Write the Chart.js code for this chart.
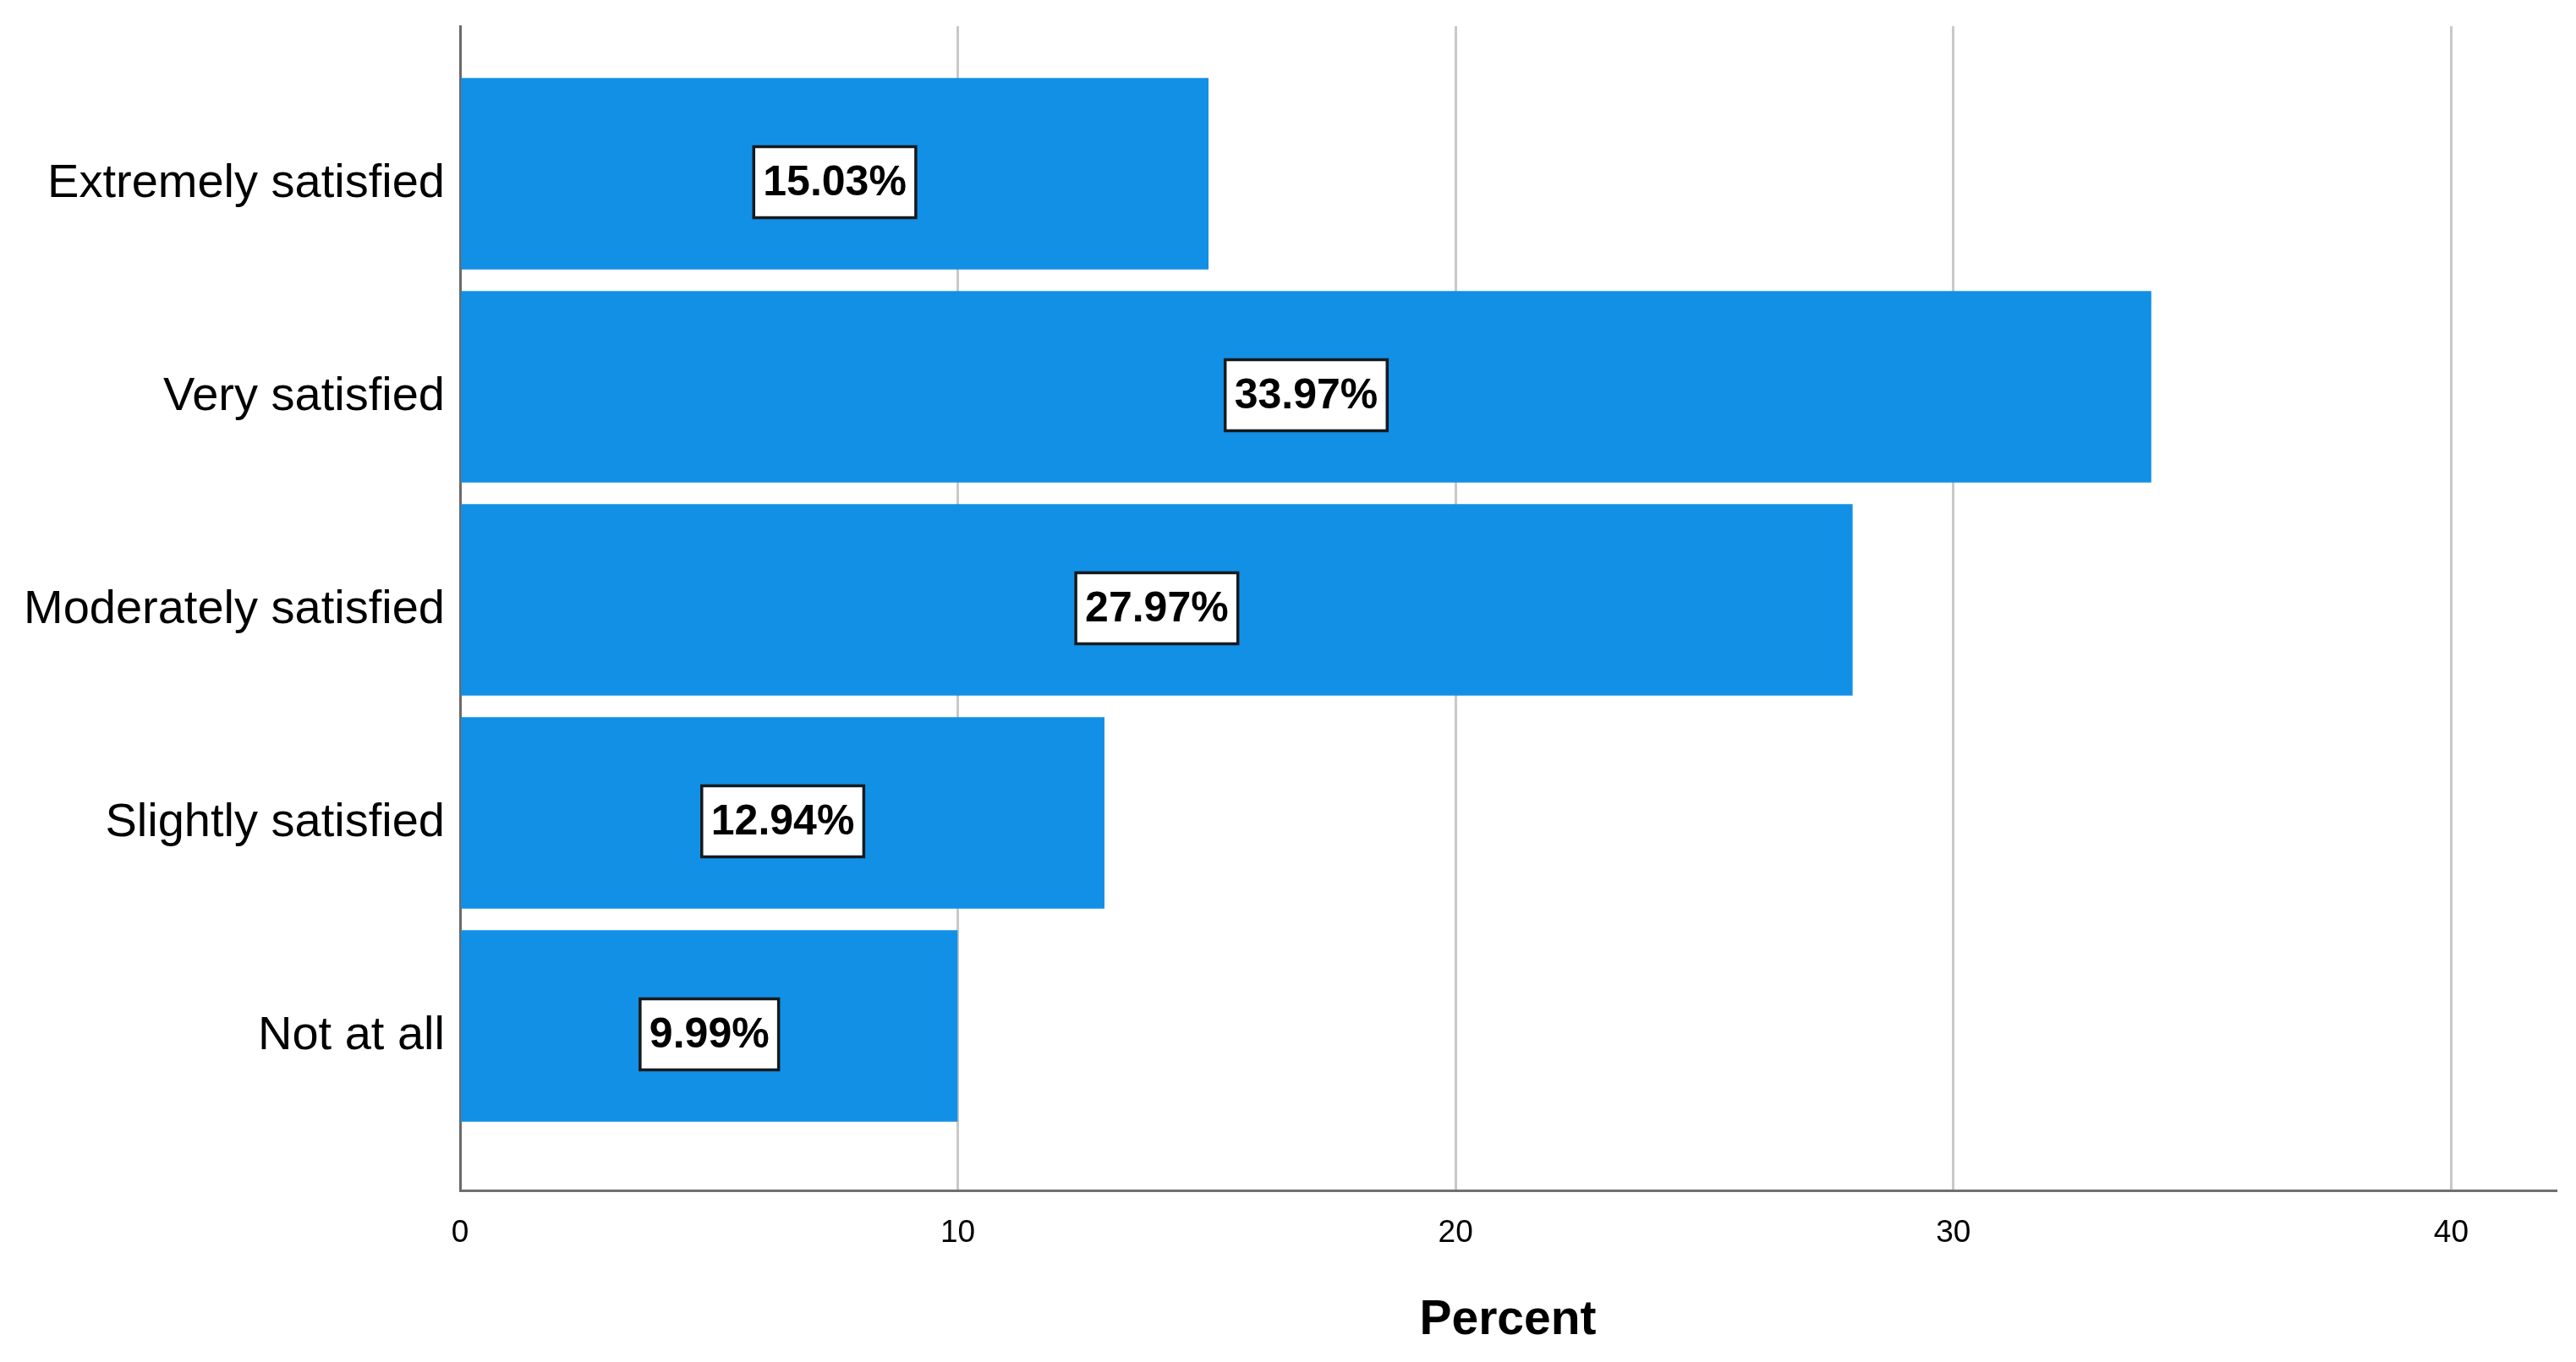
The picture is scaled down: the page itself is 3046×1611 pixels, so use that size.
<!DOCTYPE html>
<html>
<head>
<meta charset="utf-8">
<title>Percent</title>
<script src="https://cdn.jsdelivr.net/npm/chart.js@4/dist/chart.umd.min.js"></script>
<style>
  html, body { margin: 0; padding: 0; background: #ffffff; }
  #barChart { display: block; }
</style>
</head>
<body>
<canvas id="barChart" width="3046" height="1611"></canvas>
<script>
'use strict';

// satisfaction levels, top to bottom
var categories = ["Extremely satisfied", "Very satisfied", "Moderately satisfied", "Slightly satisfied", "Not at all"];
var percents = [15.03, 33.97, 27.97, 12.94, 9.99];
var xTicks = [0, 10, 20, 30, 40];

var barColor = "#1290e6";
var fontFamily = "'Liberation Sans', Arial, Helvetica, sans-serif";

// white boxed value labels in the middle of each bar
var valueBoxes = {
  id: 'valueBoxes',
  afterDatasetsDraw: function (chart) {
    var ctx = chart.ctx;
    var meta = chart.getDatasetMeta(0);
    ctx.save();
    ctx.font = "bold 50px " + fontFamily;
    ctx.textAlign = "center";
    ctx.textBaseline = "middle";
    meta.data.forEach(function (bar, i) {
      var text = percents[i].toFixed(2) + "%";
      var cx = (bar.x + bar.base) / 2;
      var cy = bar.y + 10;
      var w = ctx.measureText(text).width + 22;
      var h = 84;
      ctx.fillStyle = "#ffffff";
      ctx.fillRect(cx - w / 2, cy - h / 2, w, h);
      ctx.lineWidth = 3.5;
      ctx.strokeStyle = "#151a1f";
      ctx.strokeRect(cx - w / 2, cy - h / 2, w, h);
      ctx.fillStyle = "#000000";
      ctx.fillText(text, cx, cy + 2);
    });
    ctx.restore();
  }
};

function createBarChart() {
  var canvas = document.getElementById("barChart");
  var data = percents.map(function (p, i) {
    return { x: p, y: i };
  });

  new Chart(canvas.getContext("2d"), {
    type: "bar",
    data: {
      datasets: [{
        label: "Percent",
        data: data,
        backgroundColor: barColor,
        borderWidth: 0,
        barThickness: 226
      }]
    },
    plugins: [valueBoxes],
    options: {
      indexAxis: "y",
      responsive: false,
      animation: false,
      layout: {
        padding: { top: 31, right: 24, left: 0, bottom: 0 }
      },
      plugins: {
        legend: { display: false },
        tooltip: { enabled: false }
      },
      scales: {
        x: {
          type: "linear",
          min: 0,
          max: 42.1,
          afterBuildTicks: function (scale) {
            scale.ticks = xTicks.map(function (v) { return { value: v }; });
          },
          afterFit: function (scale) {
            scale.height = 203;
            scale.paddingLeft = 0;
            scale.paddingRight = 0;
          },
          grid: {
            drawTicks: false,
            lineWidth: 3,
            color: function (c) {
              return c.tick && c.tick.value === 0 ? "rgba(0,0,0,0)" : "#c8c8c8";
            }
          },
          border: { display: true, color: "#707070", width: 3 },
          ticks: {
            padding: 29,
            color: "#000000",
            font: { family: fontFamily, size: 37 }
          },
          title: {
            display: true,
            text: "Percent",
            color: "#000000",
            padding: { top: 0, bottom: 15 },
            font: { family: fontFamily, size: 57, weight: "bold" }
          }
        },
        y: {
          type: "linear",
          reverse: true,
          offset: false,
          min: -0.6925,
          max: 4.772,
          afterBuildTicks: function (scale) {
            scale.ticks = categories.map(function (c, i) { return { value: i }; });
          },
          afterFit: function (scale) {
            scale.width = 544;
            scale.paddingTop = 0;
            scale.paddingBottom = 0;
          },
          grid: { display: false, drawTicks: false },
          border: { display: true, color: "#6a6a6a", width: 3 },
          ticks: {
            padding: 18,
            labelOffset: 12,
            color: "#000000",
            font: { family: fontFamily, size: 56 },
            callback: function (value) {
              return categories[value];
            }
          }
        }
      }
    }
  });
}

createBarChart();
</script>
</body>
</html>
